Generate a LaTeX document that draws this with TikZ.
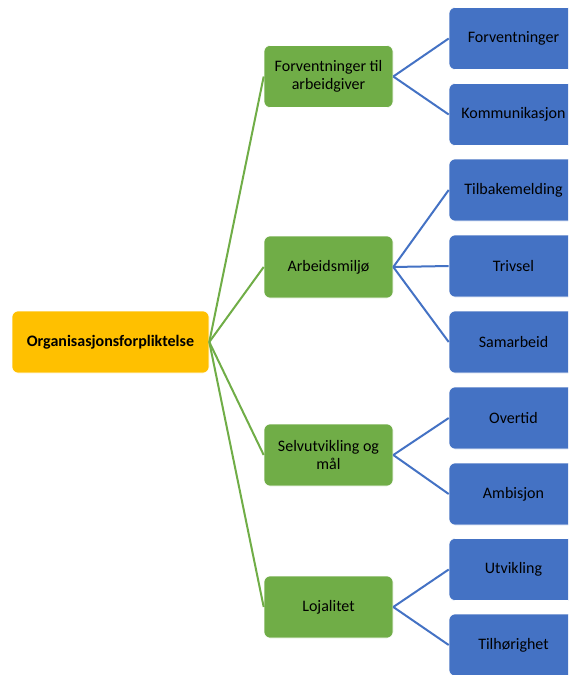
\documentclass[tikz,border=0pt]{standalone}
\usepackage{fontspec}
\setmainfont{Carlito}
\begin{document}
\begin{tikzpicture}[x=1pt,y=-1pt,
  box/.style={draw=white,line width=0.6pt,rounded corners=6pt,minimum width=129pt,minimum height=62pt,align=center,inner sep=2pt,font=\fontsize{16}{17.5}\selectfont,text=black},
  rootbox/.style={box,fill=rootc,minimum width=197pt,font=\fontsize{16}{17.5}\selectfont\bfseries},
  lvlone/.style={box,fill=greenc},
  lvltwo/.style={box,fill=bluec},
  gline/.style={draw=greenc,line width=2pt},
  bline/.style={draw=bluec,line width=2pt}]
\definecolor{rootc}{HTML}{FFC000}
\definecolor{greenc}{HTML}{70AD47}
\definecolor{bluec}{HTML}{4472C4}
\useasboundingbox (0,0) rectangle (568,675);
\clip (0,0) rectangle (568,675);
\node[rootbox] (root) at (110.5,342) {Organisasjonsforpliktelse};
\node[lvlone] (g1) at (328.5,76.5) {Forventninger til\\arbeidgiver};
\node[lvlone] (g2) at (328.5,267) {Arbeidsmiljø};
\node[lvlone] (g3) at (328.5,455) {Selvutvikling og\\mål};
\node[lvlone] (g4) at (328.5,607) {Lojalitet};
\node[lvltwo] (b1) at (513.5,38.5) {Forventninger};
\node[lvltwo] (b2) at (513.5,114.5) {Kommunikasjon};
\node[lvltwo] (b3) at (513.5,190) {Tilbakemelding};
\node[lvltwo] (b4) at (513.5,266) {Trivsel};
\node[lvltwo] (b5) at (513.5,342) {Samarbeid};
\node[lvltwo] (b6) at (513.5,418) {Overtid};
\node[lvltwo] (b7) at (513.5,494) {Ambisjon};
\node[lvltwo] (b8) at (513.5,569.5) {Utvikling};
\node[lvltwo] (b9) at (513.5,645) {Tilhørighet};
\foreach \g in {g1,g2,g3,g4} \draw[gline] (root.east) -- (\g.west);
\draw[bline] (g1.east) -- (b1.west);
\draw[bline] (g1.east) -- (b2.west);
\draw[bline] (g2.east) -- (b3.west);
\draw[bline] (g2.east) -- (b4.west);
\draw[bline] (g2.east) -- (b5.west);
\draw[bline] (g3.east) -- (b6.west);
\draw[bline] (g3.east) -- (b7.west);
\draw[bline] (g4.east) -- (b8.west);
\draw[bline] (g4.east) -- (b9.west);
\end{tikzpicture}
\end{document}
